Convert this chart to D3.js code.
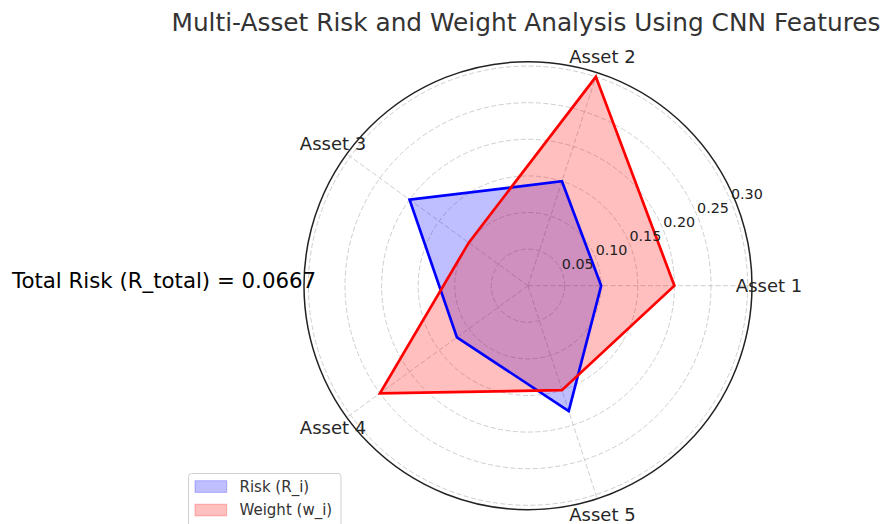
<!DOCTYPE html>
<html>
<head>
<meta charset="utf-8">
<script src="https://cdn.jsdelivr.net/npm/d3@7"></script>
<style>
  body { margin: 0; background: #fff; }
  svg { display: block; font-family: "DejaVu Sans", sans-serif; }
</style>
</head>
<body>
<div id="chart"></div>
<script>
const assets = ['Asset 1', 'Asset 2', 'Asset 3', 'Asset 4', 'Asset 5'];
const risk = [0.10, 0.15, 0.20, 0.12, 0.18];
const weight = [0.20, 0.30, 0.10, 0.25, 0.15];
const rTicks = [0.05, 0.10, 0.15, 0.20, 0.25, 0.30];
const totalRisk = '0.0667';

const width = 886;
const height = 524;
const cx = 528, cy = 285.7;

const svg = d3.select('#chart')
    .append('svg')
    .attr('width', width)
    .attr('height', height);

const r = d3.scaleLinear().domain([0, 0.306]).range([0, 224]);
const angle = d3.scaleLinear().domain([0, assets.length]).range([0, 2 * Math.PI]);

const px = (i, v) => cx + r(v) * Math.cos(angle(i));
const py = (i, v) => cy - r(v) * Math.sin(angle(i));

const g = svg.append('g');

// grid circles
g.selectAll('.ring')
    .data(rTicks)
    .enter()
    .append('circle')
    .attr('cx', cx)
    .attr('cy', cy)
    .attr('r', d => r(d))
    .attr('fill', 'none')
    .attr('stroke', '#c8c8c8')
    .attr('stroke-width', 0.9)
    .attr('stroke-dasharray', '5,2.5');

// spokes
g.selectAll('.spoke')
    .data(assets)
    .enter()
    .append('line')
    .attr('x1', cx)
    .attr('y1', cy)
    .attr('x2', (d, i) => px(i, r.domain()[1]))
    .attr('y2', (d, i) => py(i, r.domain()[1]))
    .attr('stroke', '#c8c8c8')
    .attr('stroke-width', 0.9)
    .attr('stroke-dasharray', '5,2.5');

const series = [
    { name: 'Risk (R_i)', values: risk, color: 'blue' },
    { name: 'Weight (w_i)', values: weight, color: 'red' }
];

const line = d3.line().curve(d3.curveLinearClosed);
const pointsOf = s => s.values.map((v, i) => [px(i, v), py(i, v)]);

// fills sit below the lines (patch zorder < line zorder)
series.forEach(s => {
    g.append('path')
        .attr('d', line(pointsOf(s)))
        .attr('fill', s.color)
        .attr('fill-opacity', 0.25)
        .attr('stroke', 'none');
});
series.forEach(s => {
    g.append('path')
        .attr('d', line(pointsOf(s)))
        .attr('fill', 'none')
        .attr('stroke', s.color)
        .attr('stroke-width', 2.7)
        .attr('stroke-linejoin', 'miter');
});

// outer frame
g.append('circle')
    .attr('cx', cx)
    .attr('cy', cy)
    .attr('r', r.range()[1])
    .attr('fill', 'none')
    .attr('stroke', '#222')
    .attr('stroke-width', 1.5);

// radial tick labels at 22.5 deg
const la = 22.5 * Math.PI / 180;
g.selectAll('.rlabel')
    .data(rTicks)
    .enter()
    .append('text')
    .attr('x', d => cx + r(d) * Math.cos(la))
    .attr('y', d => cy - r(d) * Math.sin(la) - 3)
    .attr('text-anchor', 'start')
    .style('font-size', '14.3px')
    .style('fill', '#222')
    .text(d => d.toFixed(2));

// asset labels
g.selectAll('.alabel')
    .data(assets)
    .enter()
    .append('text')
    .attr('x', (d, i) => cx + 241 * Math.cos(angle(i)))
    .attr('y', (d, i) => cy - 241 * Math.sin(angle(i)))
    .attr('dy', '0.35em')
    .attr('text-anchor', 'middle')
    .style('font-size', '18px')
    .style('fill', '#262626')
    .text(d => d);

// title
svg.append('text')
    .attr('x', 526)
    .attr('y', 31)
    .attr('text-anchor', 'middle')
    .style('font-size', '24.8px')
    .style('fill', '#333')
    .text('Multi-Asset Risk and Weight Analysis Using CNN Features');

// total risk text
svg.append('text')
    .attr('x', 12)
    .attr('y', 288)
    .style('font-size', '21.3px')
    .style('fill', '#000')
    .text(`Total Risk (R_total) = ${totalRisk}`);

// legend
const legend = svg.append('g').attr('transform', 'translate(188.5,473.5)');
legend.append('rect')
    .attr('width', 152.5)
    .attr('height', 60)
    .attr('rx', 3)
    .attr('fill', '#fff')
    .attr('fill-opacity', 0.8)
    .attr('stroke', '#d0d0d0');

series.forEach((s, i) => {
    const row = legend.append('g').attr('transform', `translate(0,${i * 23.5})`);
    row.append('rect')
        .attr('x', 6.5)
        .attr('y', 7.2)
        .attr('width', 31.7)
        .attr('height', 11.7)
        .attr('fill', s.color)
        .attr('fill-opacity', 0.25)
        .attr('stroke', s.color)
        .attr('stroke-opacity', 0.25);
    row.append('text')
        .attr('x', 51)
        .attr('y', 13)
        .attr('dy', '0.35em')
        .style('font-size', '15px')
        .style('fill', '#333')
        .text(s.name);
});
</script>
</body>
</html>
